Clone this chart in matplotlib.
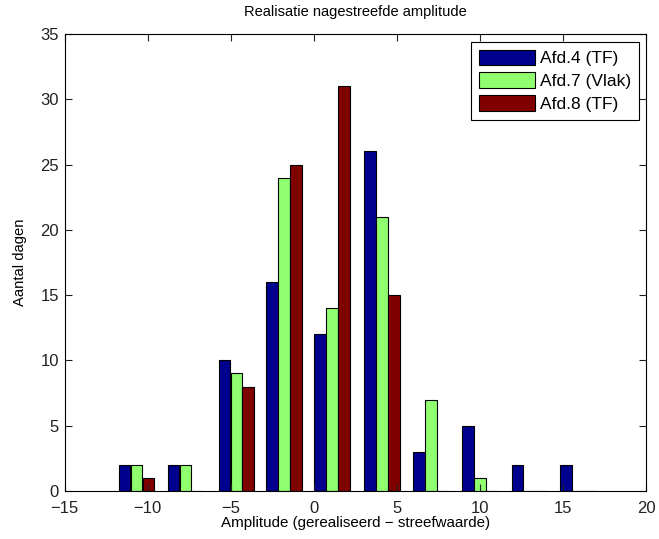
import numpy as np
import matplotlib.pyplot as plt

plt.rcParams['font.family'] = ['Liberation Sans', 'DejaVu Sans']

# bin centres of the amplitude histogram
bin_centres = [-10.67, -7.72, -4.67, -1.80, 1.10, 4.09, 7.05, 9.99, 12.96, 15.88]

afd4 = [2, 2, 10, 16, 12, 26, 3, 5, 2, 2]
afd7 = [2, 2, 9, 24, 14, 21, 7, 1, 0, 0]
afd8 = [1, 0, 8, 25, 31, 15, 0, 0, 0, 0]

labels = ['Afd.4 (TF)', 'Afd.7 (Vlak)', 'Afd.8 (TF)']
colors = ['#00008F', '#8FFF70', '#800000']

fig = plt.figure(figsize=(6.59, 5.39), dpi=100)
ax = fig.add_axes([0.098, 0.089, 0.883, 0.848])

x = np.array(bin_centres)
w = 0.70
for k, (vals, lab, col) in enumerate(zip([afd4, afd7, afd8], labels, colors)):
    ax.bar(x + (k - 1) * 0.72, vals, width=w, color=col, edgecolor='black',
           linewidth=0.8, label=lab)

ax.set_xlim(-15, 20)
ax.set_ylim(0, 35)
ax.set_xticks(range(-15, 21, 5))
ax.set_yticks(range(0, 36, 5))
ax.set_xticklabels([str(t).replace('-', '\u2212') for t in range(-15, 21, 5)])
ax.tick_params(direction='in', top=True, right=True, length=5, width=0.8,
               labelsize=12, colors='#222222')
ax.tick_params(axis='x', pad=7)
ax.tick_params(axis='y', pad=4)
for s in ax.spines.values():
    s.set_linewidth(0.8)

ax.set_title('Realisatie nagestreefde amplitude', fontsize=10.5, pad=13)
ax.set_xlabel('Amplitude (gerealiseerd \u2212 streefwaarde)', fontsize=10.9, labelpad=0)
ax.set_ylabel('Aantal dagen', fontsize=10.6, labelpad=10)

leg = ax.legend(loc='upper right', fontsize=12.5, fancybox=False, framealpha=1,
                edgecolor='black', handlelength=3.2, handleheight=1.0,
                borderaxespad=0.45, labelspacing=0.35, handletextpad=0.3,
                borderpad=0.45)
leg.get_frame().set_linewidth(0.8)

fig.savefig('out.png', dpi=100)
